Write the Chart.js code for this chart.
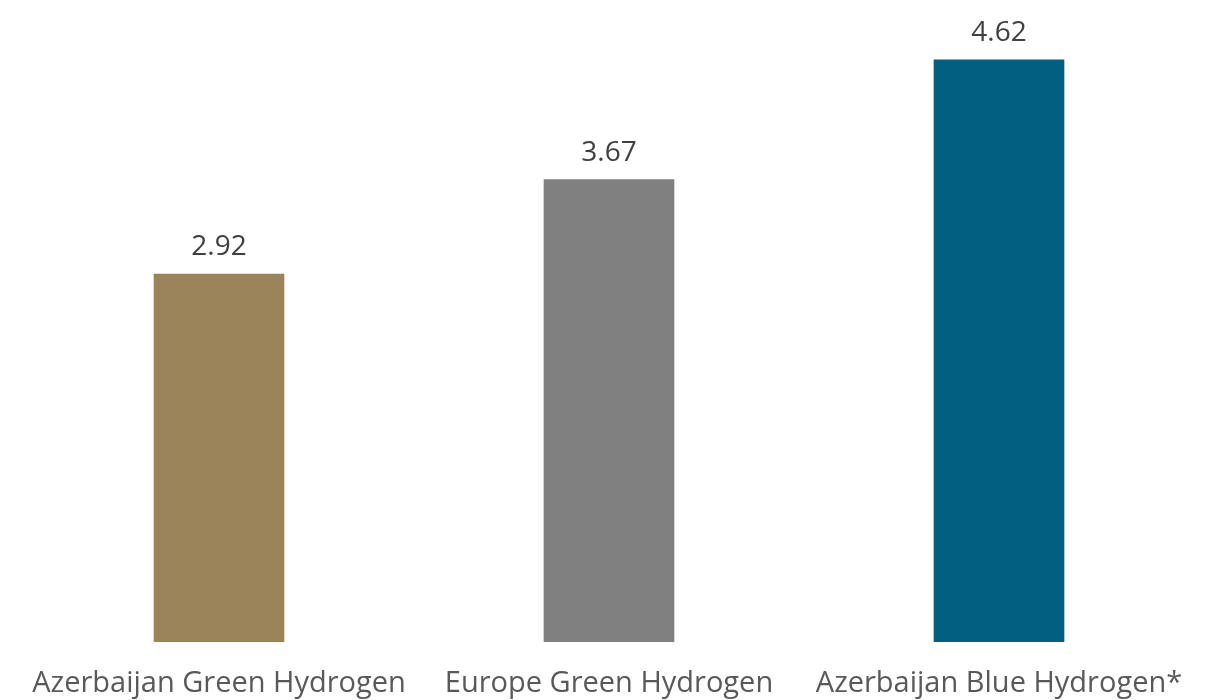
<!DOCTYPE html>
<html>
<head>
<meta charset="utf-8">
<script src="https://cdn.jsdelivr.net/npm/chart.js@4"></script>
<style>
  html, body { margin: 0; padding: 0; background: #fff; overflow: hidden; }
  #wrap { width: 1221px; height: 700px; position: relative; }
</style>
</head>
<body>
<div id="wrap"><canvas id="chart"></canvas></div>
<script>
// data
const categories = ['Azerbaijan Green Hydrogen', 'Europe Green Hydrogen', 'Azerbaijan Blue Hydrogen*'];
const values = [2.92, 3.67, 4.62];
const barColors = ['#9C845A', '#808080', '#025F82'];

// value labels above bars
const valueLabels = {
  id: 'valueLabels',
  afterDatasetsDraw(chart) {
    const { ctx } = chart;
    ctx.save();
    ctx.font = '28px "Open Sans", sans-serif';
    ctx.fillStyle = '#404040';
    ctx.textAlign = 'center';
    ctx.textBaseline = 'alphabetic';
    chart.getDatasetMeta(0).data.forEach((bar, i) => {
      ctx.fillText(values[i].toFixed(2), bar.x, bar.y - 19);
    });
    ctx.restore();
  }
};

new Chart(document.getElementById('chart'), {
  type: 'bar',
  data: {
    labels: categories,
    datasets: [{
      data: values,
      backgroundColor: barColors,
      barThickness: 130
    }]
  },
  options: {
    responsive: true,
    maintainAspectRatio: false,
    animation: false,
    layout: { padding: { left: 24, right: 27, top: 12, bottom: 0 } },
    plugins: { legend: { display: false }, tooltip: { enabled: false } },
    scales: {
      x: {
        grid: { display: false, drawTicks: false },
        border: { display: false },
        afterFit: s => { s.height = 58; },
        ticks: {
          padding: 24,
          color: '#595959',
          font: { family: '"Open Sans", sans-serif', size: 29 },
          maxRotation: 0,
          autoSkip: false
        }
      },
      y: { display: false, min: 0, max: 5 }
    }
  },
  plugins: [valueLabels]
});
</script>
</body>
</html>
